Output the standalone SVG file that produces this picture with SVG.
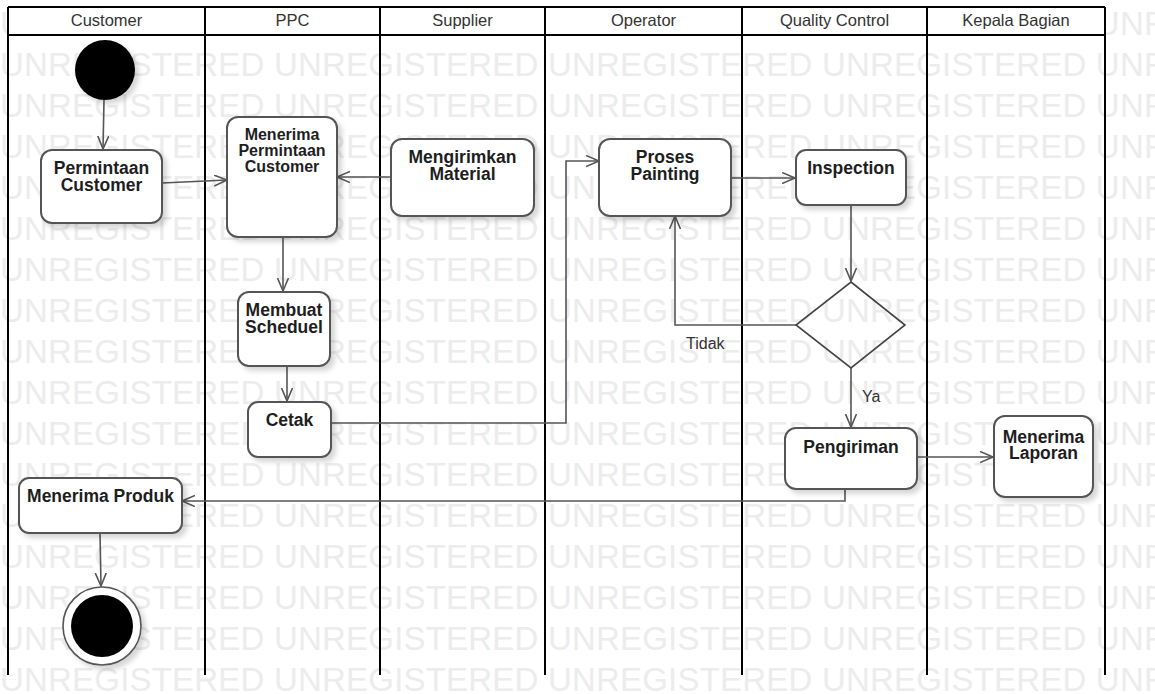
<svg xmlns="http://www.w3.org/2000/svg" width="1155" height="694" viewBox="0 0 1155 694">
<style>
.wm{font-family:"Liberation Sans",Arial,sans-serif;font-size:33px;fill:#ececec;letter-spacing:0.2px}
.lane{stroke:#000;stroke-width:2;fill:none}
.hdr{font-family:"Liberation Sans",Arial,sans-serif;font-size:16.5px;fill:#333;text-anchor:middle}
.box{fill:#fff;stroke:#555;stroke-width:2}
.lbl{font-family:"Liberation Sans",Arial,sans-serif;font-size:17.5px;font-weight:bold;fill:#1e1e1e;text-anchor:middle}
.lbl16{font-size:16px}
.con{fill:none;stroke:#555;stroke-width:1.6}
.guard{font-family:"Liberation Sans",Arial,sans-serif;font-size:16px;fill:#333}
</style>
<defs>
<marker id="arr" markerUnits="userSpaceOnUse" markerWidth="16" markerHeight="14" refX="13" refY="6" orient="auto">
<path d="M0,0.5 L13,6 L0,11.5" fill="none" stroke="#555" stroke-width="1.6"/>
</marker>
<filter id="sh" x="-20%" y="-20%" width="150%" height="150%">
<feDropShadow dx="4" dy="4" stdDeviation="2.5" flood-color="#000" flood-opacity="0.16"/>
</filter>
</defs>
<rect width="1155" height="694" fill="#fff"/>
<g id="watermark">
<text class="wm" x="0" y="35">UNREGISTERED UNREGISTERED UNREGISTERED UNREGISTERED UNR</text>
<text class="wm" x="0" y="76">UNREGISTERED UNREGISTERED UNREGISTERED UNREGISTERED UNR</text>
<text class="wm" x="0" y="117">UNREGISTERED UNREGISTERED UNREGISTERED UNREGISTERED UNR</text>
<text class="wm" x="0" y="158">UNREGISTERED UNREGISTERED UNREGISTERED UNREGISTERED UNR</text>
<text class="wm" x="0" y="199">UNREGISTERED UNREGISTERED UNREGISTERED UNREGISTERED UNR</text>
<text class="wm" x="0" y="240">UNREGISTERED UNREGISTERED UNREGISTERED UNREGISTERED UNR</text>
<text class="wm" x="0" y="281">UNREGISTERED UNREGISTERED UNREGISTERED UNREGISTERED UNR</text>
<text class="wm" x="0" y="322">UNREGISTERED UNREGISTERED UNREGISTERED UNREGISTERED UNR</text>
<text class="wm" x="0" y="363">UNREGISTERED UNREGISTERED UNREGISTERED UNREGISTERED UNR</text>
<text class="wm" x="0" y="404">UNREGISTERED UNREGISTERED UNREGISTERED UNREGISTERED UNR</text>
<text class="wm" x="0" y="445">UNREGISTERED UNREGISTERED UNREGISTERED UNREGISTERED UNR</text>
<text class="wm" x="0" y="486">UNREGISTERED UNREGISTERED UNREGISTERED UNREGISTERED UNR</text>
<text class="wm" x="0" y="527">UNREGISTERED UNREGISTERED UNREGISTERED UNREGISTERED UNR</text>
<text class="wm" x="0" y="568">UNREGISTERED UNREGISTERED UNREGISTERED UNREGISTERED UNR</text>
<text class="wm" x="0" y="609">UNREGISTERED UNREGISTERED UNREGISTERED UNREGISTERED UNR</text>
<text class="wm" x="0" y="650">UNREGISTERED UNREGISTERED UNREGISTERED UNREGISTERED UNR</text>
<text class="wm" x="0" y="691">UNREGISTERED UNREGISTERED UNREGISTERED UNREGISTERED UNR</text>
</g>
<g id="lanes">
<rect x="8" y="7" width="1097" height="28" fill="#fff"/>
<path class="lane" d="M8,7 H1105 M8,35 H1105 M8,7 V675 M205,7 V675 M380,7 V675 M545,7 V675 M742,7 V675 M927,7 V675 M1105,7 V675"/>
<text class="hdr" x="106.5" y="26">Customer</text>
<text class="hdr" x="292.5" y="26">PPC</text>
<text class="hdr" x="462.5" y="26">Supplier</text>
<text class="hdr" x="643.5" y="26">Operator</text>
<text class="hdr" x="834.5" y="26">Quality Control</text>
<text class="hdr" x="1016" y="26">Kepala Bagian</text>
</g>
<g id="connectors">
<path class="con" marker-end="url(#arr)" d="M104,100 L103,149"/>
<path class="con" marker-end="url(#arr)" d="M162,183 L227,180"/>
<path class="con" marker-end="url(#arr)" d="M391,177 L337,177"/>
<path class="con" marker-end="url(#arr)" d="M283,237 L283,291"/>
<path class="con" marker-end="url(#arr)" d="M287,366 L287,401"/>
<path class="con" marker-end="url(#arr)" d="M331,423 H566 V161 H599"/>
<path class="con" marker-end="url(#arr)" d="M731,178 H795"/>
<path class="con" marker-end="url(#arr)" d="M851,205 V281"/>
<path class="con" marker-end="url(#arr)" d="M796,325 H675 V216"/>
<path class="con" marker-end="url(#arr)" d="M851,368 V427"/>
<path class="con" marker-end="url(#arr)" d="M917,457 H993"/>
<path class="con" marker-end="url(#arr)" d="M845,489 V501 H182"/>
<path class="con" marker-end="url(#arr)" d="M100,533 L101,586"/>
<text class="guard" x="686" y="349">Tidak</text>
<text class="guard" x="862" y="402">Ya</text>
</g>
<g id="start"><circle cx="105" cy="70" r="30" fill="#000" filter="url(#sh)"/></g>
<g id="permintaan-customer">
<rect class="box" x="41" y="150" width="121" height="73" rx="11" filter="url(#sh)"/>
<text class="lbl" x="101.5" y="174">Permintaan</text>
<text class="lbl" x="101.5" y="191">Customer</text>
</g>
<g id="menerima-permintaan">
<rect class="box" x="227" y="117" width="110" height="120" rx="11" filter="url(#sh)"/>
<text class="lbl lbl16" x="282" y="139.5">Menerima</text>
<text class="lbl lbl16" x="282" y="156">Permintaan</text>
<text class="lbl lbl16" x="282" y="172">Customer</text>
</g>
<g id="mengirimkan-material">
<rect class="box" x="391" y="139" width="143" height="77" rx="11" filter="url(#sh)"/>
<text class="lbl" x="462.5" y="163">Mengirimkan</text>
<text class="lbl" x="462.5" y="180">Material</text>
</g>
<g id="proses-painting">
<rect class="box" x="599" y="139" width="132" height="77" rx="11" filter="url(#sh)"/>
<text class="lbl" x="665" y="163">Proses</text>
<text class="lbl" x="665" y="180">Painting</text>
</g>
<g id="inspection">
<rect class="box" x="796" y="150" width="110" height="55" rx="10" filter="url(#sh)"/>
<text class="lbl" x="851" y="174">Inspection</text>
</g>
<g id="decision">
<path d="M851,282 L905,325 L851,368 L796,325 Z" fill="none" stroke="#444" stroke-width="1.6"/>
</g>
<g id="membuat-scheduel">
<rect class="box" x="238" y="292" width="92" height="74" rx="11" filter="url(#sh)"/>
<text class="lbl" x="284" y="316">Membuat</text>
<text class="lbl" x="284" y="333">Scheduel</text>
</g>
<g id="cetak">
<rect class="box" x="248" y="402" width="83" height="55" rx="10" filter="url(#sh)"/>
<text class="lbl" x="289.5" y="425.5">Cetak</text>
</g>
<g id="pengiriman">
<rect class="box" x="785" y="428" width="132" height="61" rx="11" filter="url(#sh)"/>
<text class="lbl" x="851" y="453">Pengiriman</text>
</g>
<g id="menerima-laporan">
<rect class="box" x="994" y="416" width="99" height="81" rx="11" filter="url(#sh)"/>
<text class="lbl" x="1043.5" y="442.5">Menerima</text>
<text class="lbl" x="1043.5" y="459">Laporan</text>
</g>
<g id="menerima-produk">
<rect class="box" x="19" y="478" width="163" height="55" rx="10" filter="url(#sh)"/>
<text class="lbl" x="100.5" y="502">Menerima Produk</text>
</g>
<g id="end">
<circle cx="102" cy="626" r="39" fill="#fff" stroke="#555" stroke-width="1.6" filter="url(#sh)"/>
<circle cx="102" cy="626" r="31" fill="#000"/>
</g>
</svg>
